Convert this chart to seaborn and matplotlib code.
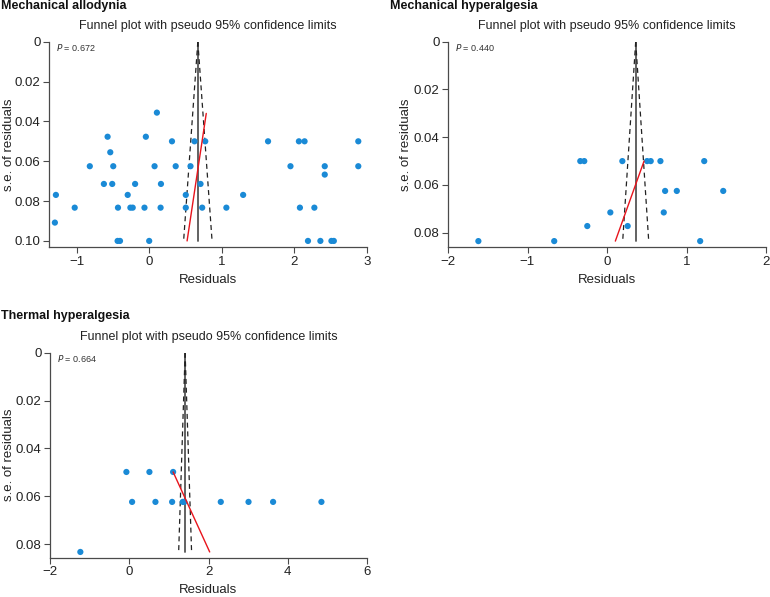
import matplotlib
matplotlib.use("Agg")
import matplotlib.pyplot as plt
import seaborn as sns
import numpy as np
import pandas as pd

sns.set_theme(style="ticks")
plt.rcParams['font.family'] = ['Liberation Sans', 'DejaVu Sans']

# ---------------- data ----------------
titles = ["Mechanical allodynia", "Mechanical hyperalgesia", "Thermal hyperalgesia"]
p_values = ["0.672", "0.440", "0.664"]

ma_resid = [0.106, -0.573, -0.046, 0.314, 0.624, 0.772, 1.637, 2.062, 2.14, 2.88,
            -0.536, -0.818, -0.495, 0.074, 0.365, 0.569, 1.946, 2.418, 2.88, 2.418,
            -0.624, -0.509, -0.194, 0.162, 0.707, -1.285, -0.296, 0.504, 1.294,
            -1.026, -0.43, -0.259, -0.227, -0.065, 0.157, 0.504, 0.730, 1.063, 2.076, 2.275,
            -1.299, -0.435, -0.402, 0.0, 2.187, 2.358, 2.51, 2.543]
ma_se = [0.0356, 0.0477, 0.0477, 0.050, 0.050, 0.050, 0.050, 0.050, 0.050, 0.050,
         0.0555, 0.0625, 0.0625, 0.0625, 0.0625, 0.0625, 0.0625, 0.0625, 0.0625, 0.0667,
         0.0714, 0.0714, 0.0714, 0.0714, 0.0714, 0.0769, 0.0769, 0.0769, 0.0769,
         0.0833, 0.0833, 0.0833, 0.0833, 0.0833, 0.0833, 0.0833, 0.0833, 0.0833, 0.0833, 0.0833,
         0.0908, 0.100, 0.100, 0.100, 0.100, 0.100, 0.100, 0.100]

mh_resid = [-0.336, -0.286, 0.193, 0.504, 0.55, 0.672, 1.223,
            0.731, 0.878, 1.462, 0.042, 0.714, -0.248, 0.26,
            -1.618, -0.664, 1.172]
mh_se = [0.050, 0.050, 0.050, 0.050, 0.050, 0.050, 0.050,
         0.0625, 0.0625, 0.0625, 0.0715, 0.0715, 0.0772, 0.0772,
         0.0835, 0.0835, 0.0835]

th_resid = [-0.072, 0.509, 1.107, 0.072, 0.661, 1.082, 1.35, 1.39, 2.31, 3.01, 3.63, 4.85, -1.234]
th_se = [0.0498, 0.0498, 0.0498, 0.0623, 0.0623, 0.0623, 0.0623, 0.0623, 0.0623, 0.0623,
         0.0623, 0.0623, 0.0832]

# pooled centre and max s.e. for funnel
centres = [0.670, 0.361, 1.41]
funnel_max_se = [0.100, 0.0835, 0.0832]

# regression (red) line endpoints
red_x = [[0.522, 0.786], [0.105, 0.466], [1.107, 2.03]]
red_se = [[0.100, 0.036], [0.0835, 0.050], [0.0498, 0.0832]]

xlims = [(-1.38, 3.0), (-2.0, 2.0), (-2.0, 6.0)]
ylims = [(0.1032, 0.0), (0.0861, 0.0), (0.0856, 0.0)]
xticks = [[-1, 0, 1, 2, 3], [-2, -1, 0, 1, 2], [-2, 0, 2, 4, 6]]
yticks = [[0, 0.02, 0.04, 0.06, 0.08, 0.10], [0, 0.02, 0.04, 0.06, 0.08], [0, 0.02, 0.04, 0.06, 0.08]]
yticklabels = [["0", "0.02", "0.04", "0.06", "0.08", "0.10"],
               ["0", "0.02", "0.04", "0.06", "0.08"],
               ["0", "0.02", "0.04", "0.06", "0.08"]]

datasets = [(ma_resid, ma_se), (mh_resid, mh_se), (th_resid, th_se)]

W, H = 770, 597
fig = plt.figure(figsize=(W / 100, H / 100), dpi=100)

# axes boxes in pixels: left, top, right, bottom
boxes = [(49, 41.7, 367, 247.3), (448, 41.7, 766, 247.3), (50, 352.7, 367, 557.7)]
header_pos = [(1, 0), (390, 0), (1, 310)]
ylabel_x_px = [15, 412, 15]

spine_col = "#4a4a4a"
pt_col = "#1a8ad6"

for i in range(3):
    l, t, r, b = boxes[i]
    ax = fig.add_axes([l / W, 1 - b / H, (r - l) / W, (b - t) / H])
    df = pd.DataFrame({"resid": datasets[i][0], "se": datasets[i][1]})
    c = centres[i]
    m = funnel_max_se[i]
    # funnel
    ax.plot([c, c], [0, m], color="#555555", lw=1.3, zorder=2)
    ax.plot([c, c - 1.96 * m], [0, m], color="#222222", lw=0.9, ls=(0, (4, 3)), zorder=2)
    ax.plot([c, c + 1.96 * m], [0, m], color="#222222", lw=0.9, ls=(0, (4, 3)), zorder=2)
    sns.scatterplot(data=df, x="resid", y="se", ax=ax, color=pt_col, s=20,
                    edgecolor="none", linewidth=0, zorder=3)
    ax.plot(red_x[i], red_se[i], color="#e8141c", lw=1.0, zorder=4)

    ax.set_xlim(*xlims[i])
    ax.set_ylim(*ylims[i])
    ax.set_xticks(xticks[i])
    ax.set_xticklabels(["\u2212" + str(abs(v)) if v < 0 else str(v) for v in xticks[i]])
    ax.set_yticks(yticks[i])
    ax.set_yticklabels(yticklabels[i])
    ax.tick_params(axis="both", labelsize=9.5, colors=spine_col, labelcolor="#222222",
                   length=4, width=0.8, direction="out", pad=2)
    for s in ["top", "right"]:
        ax.spines[s].set_visible(False)
    for s in ["left", "bottom"]:
        ax.spines[s].set_color(spine_col)
        ax.spines[s].set_linewidth(0.9)
    ax.set_xlabel("Residuals", fontsize=9.5, color="#222222", labelpad=4.5)
    ax.set_ylabel("s.e. of residuals", fontsize=9.5, color="#222222")
    ax.yaxis.set_label_coords((ylabel_x_px[i] - l) / (r - l), 0.5)
    ax.set_title("Funnel plot with pseudo 95% confidence limits", fontsize=9,
                 color="#222222", pad=9)
    ax.text(0.022, 1.0, r"$\it{P}$ = " + p_values[i], transform=ax.transAxes,
            fontsize=6.5, color="#333333", va="top", ha="left")
    hx, hy = header_pos[i]
    fig.text(hx / W, 1 - hy / H, titles[i], fontsize=9, fontweight="bold",
             color="#111111", va="top", ha="left")

fig.savefig("out.png", dpi=100)
